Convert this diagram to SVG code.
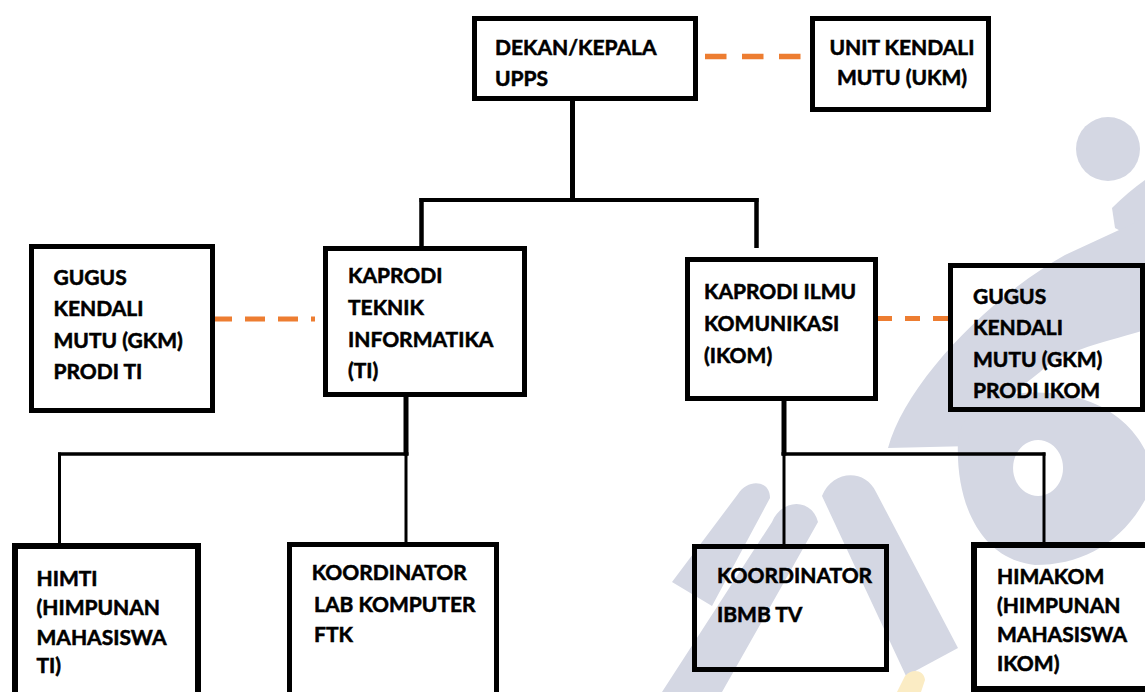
<svg xmlns="http://www.w3.org/2000/svg" width="1145" height="692" viewBox="0 0 1145 692">
  <style>
    .box { fill: none; stroke: #000; stroke-width: 5; }
    .box6 { fill: none; stroke: #000; stroke-width: 6; }
    .t { font-family: Lato, "Open Sans", "Liberation Sans", sans-serif; font-weight: 700; font-size: 21px; fill: #000; stroke: #000; stroke-width: 0.55; }
    .ln { stroke: #000; fill: none; }
    .dash { stroke: #ED7D31; fill: none; }
    .wm { fill: #d4d7e3; }
  </style>
  <rect x="0" y="0" width="1145" height="692" fill="#fff"/>
  <g id="watermark">
    <circle class="wm" cx="1108" cy="149" r="32"/>
    <path class="wm" d="M1112,208 Q1128,192 1145,180 L1145,238 Q1128,236 1115,228 Z"/>
    <path class="wm" d="M888,448 C905,385 985,300 1065,255 L1145,218 L1145,330 C1095,345 1060,352 1040,372 C1010,395 985,420 972,446 Z"/>
    <path class="wm" fill-rule="evenodd" d="M958,440 C965,390 1040,385 1085,400 C1115,410 1135,430 1145,450 L1145,500 C1120,545 1080,565 1035,565 C985,560 955,510 958,440 Z M1038,440 A25,28 0 1,0 1038.1,440 Z"/>
    <path class="wm" d="M822,496 C832,470 865,468 876,492 L958,648 L906,676 Z"/>
    <path class="wm" d="M772,522 C782,498 812,498 818,522 L722,692 L662,692 Z"/>
    <path class="wm" d="M672,582 L738,494 C748,478 770,480 770,498 L712,606 Z"/>
    <path d="M897,692 L905,676 C912,668 924,670 925,680 L921,692 Z" fill="#fbecc4"/>
  </g>
  <g id="connectors">
    <line class="ln" x1="572.5" y1="101" x2="572.5" y2="200" stroke-width="5"/>
    <line class="ln" x1="419.5" y1="200" x2="758.5" y2="200" stroke-width="4"/>
    <line class="ln" x1="421.5" y1="198" x2="421.5" y2="246" stroke-width="4.5"/>
    <line class="ln" x1="756.5" y1="198" x2="756.5" y2="248" stroke-width="4.5"/>
    <line class="ln" x1="406" y1="397" x2="406" y2="455.5" stroke-width="5"/>
    <line class="ln" x1="58" y1="454" x2="408.5" y2="454" stroke-width="3.5"/>
    <line class="ln" x1="59.5" y1="452.5" x2="59.5" y2="543" stroke-width="3"/>
    <line class="ln" x1="406" y1="454" x2="406" y2="542" stroke-width="3"/>
    <line class="ln" x1="784" y1="401" x2="784" y2="455.5" stroke-width="5"/>
    <line class="ln" x1="781.5" y1="454" x2="1045.5" y2="454" stroke-width="3.5"/>
    <line class="ln" x1="784" y1="454" x2="784" y2="544" stroke-width="3"/>
    <line class="ln" x1="1044" y1="452.5" x2="1044" y2="542" stroke-width="3"/>
    <line class="dash" x1="705" y1="56.5" x2="802" y2="56.5" stroke-width="5.5" stroke-dasharray="21.5 15.5"/>
    <line class="dash" x1="212" y1="319" x2="315" y2="319" stroke-width="5" stroke-dasharray="20 13"/>
    <line class="dash" x1="877" y1="318.5" x2="948" y2="318.5" stroke-width="5" stroke-dasharray="15 13"/>
  </g>
  <g id="dekan">
    <rect class="box" x="474.5" y="18.5" width="221" height="80"/>
    <text class="t" x="495" y="54.5">DEKAN/KEPALA</text>
    <text class="t" x="495" y="86">UPPS</text>
  </g>
  <g id="ukm">
    <rect class="box" x="812.5" y="18.5" width="176" height="91"/>
    <text class="t" x="902" y="55" text-anchor="middle">UNIT KENDALI</text>
    <text class="t" x="902" y="85" text-anchor="middle">MUTU (UKM)</text>
  </g>
  <g id="gkm-ti">
    <rect class="box" x="31.5" y="246.5" width="181" height="164"/>
    <text class="t" x="53.5" y="284.5">GUGUS</text>
    <text class="t" x="53.5" y="316">KENDALI</text>
    <text class="t" x="53.5" y="347.5">MUTU (GKM)</text>
    <text class="t" x="53.5" y="378.5">PRODI TI</text>
  </g>
  <g id="kaprodi-ti">
    <rect class="box" x="325.5" y="248.5" width="199" height="146"/>
    <text class="t" x="348" y="282.5">KAPRODI</text>
    <text class="t" x="348" y="314.5">TEKNIK</text>
    <text class="t" x="348" y="346.5">INFORMATIKA</text>
    <text class="t" x="348" y="378">(TI)</text>
  </g>
  <g id="kaprodi-ikom">
    <rect class="box" x="687.5" y="259.5" width="188" height="139"/>
    <text class="t" x="704" y="299">KAPRODI ILMU</text>
    <text class="t" x="704" y="331">KOMUNIKASI</text>
    <text class="t" x="704" y="362.5">(IKOM)</text>
  </g>
  <g id="gkm-ikom">
    <rect class="box" x="950.5" y="265.5" width="192" height="144"/>
    <text class="t" x="973" y="304">GUGUS</text>
    <text class="t" x="973" y="335">KENDALI</text>
    <text class="t" x="973" y="366.5">MUTU (GKM)</text>
    <text class="t" x="973" y="398">PRODI IKOM</text>
  </g>
  <g id="himti">
    <rect class="box6" x="15" y="546" width="183" height="180"/>
    <text class="t" x="36.5" y="586">HIMTI</text>
    <text class="t" x="36.5" y="615">(HIMPUNAN</text>
    <text class="t" x="36.5" y="644.5">MAHASISWA</text>
    <text class="t" x="36.5" y="673">TI)</text>
  </g>
  <g id="lab">
    <rect class="box" x="289.5" y="544.5" width="207" height="180"/>
    <text class="t" x="311.7" y="580">KOORDINATOR</text>
    <text class="t" x="314" y="611.5">LAB KOMPUTER</text>
    <text class="t" x="314" y="642">FTK</text>
  </g>
  <g id="ibmb">
    <rect class="box" x="694.5" y="546.5" width="192" height="123"/>
    <text class="t" x="717" y="582.5">KOORDINATOR</text>
    <text class="t" x="717" y="621.5">IBMB TV</text>
  </g>
  <g id="himakom">
    <rect class="box6" x="974" y="545" width="200" height="144"/>
    <text class="t" x="997" y="584">HIMAKOM</text>
    <text class="t" x="997" y="613">(HIMPUNAN</text>
    <text class="t" x="997" y="642">MAHASISWA</text>
    <text class="t" x="997" y="671">IKOM)</text>
  </g>
</svg>
